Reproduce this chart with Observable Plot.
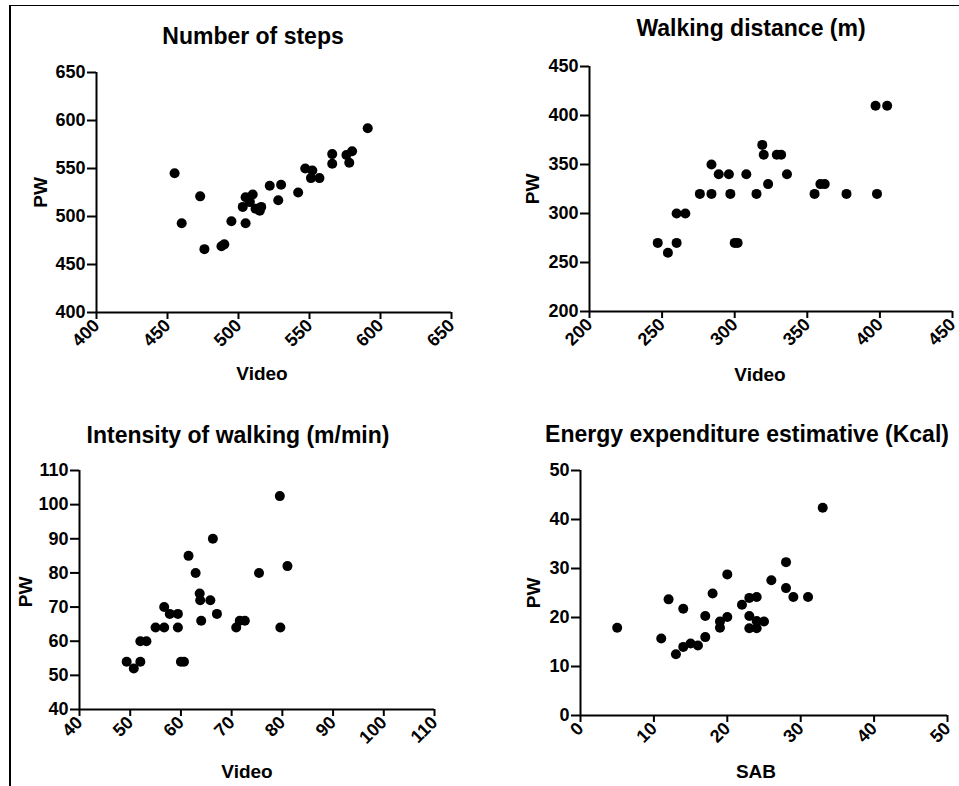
<!DOCTYPE html>
<html>
<head>
<meta charset="utf-8">
<script src="https://cdn.jsdelivr.net/npm/d3@7"></script>
<script src="https://cdn.jsdelivr.net/npm/@observablehq/plot@0.6"></script>
<style>
  html, body { margin: 0; padding: 0; background: #fff; }
  #wrap { position: relative; width: 959px; height: 786px; overflow: hidden; background: #fff; }
  #border { position: absolute; left: 9px; top: 5px; width: 960px; height: 800px;
            border-left: 2px solid #000; border-top: 1px solid #000; box-sizing: border-box; }
  .panel { position: absolute; }
  .panel text { font-weight: bold !important; }
  .panel g[aria-label$="tick label"] text { font-size: 18px !important; }
</style>
</head>
<body>
<div id="wrap"><div id="border"></div></div>
<script>
// ---- Data ----
const titles = ["Number of steps", "Walking distance (m)", "Intensity of walking (m/min)", "Energy expenditure estimative (Kcal)"];
const xLabels = ["Video", "Video", "Video", "SAB"];
const yLabel = "PW";

const stepsVideo = [455,460,473,476,488,490,495,505,503,505,508,510,512,515,516,522,528,530,542,547,552,551,557,566,566,576,580,578,591];
const stepsPW    = [545,493,521,466,469,471,495,493,510,520,515,523,508,506,510,532,517,533,525,550,548,540,540,565,555,564,568,556,592];

const distVideo = [247,254,260,260,266,276,284,284,289,296,297,300,302,308,315,319,320,323,329,332,336,355,359,362,377,397,405,398];
const distPW    = [270,260,270,300,300,320,320,350,340,340,320,270,270,340,320,370,360,330,360,360,340,320,330,330,320,410,410,320];

const intVideo = [49.3,50.7,52,52,53.2,55,56.7,56.7,57.8,59.4,59.4,60,60.6,61.5,62.9,63.7,63.8,64,65.8,66.3,67.1,70.9,71.6,72.6,75.4,79.5,79.6,81];
const intPW    = [54,52,54,60,60,64,64,70,68,68,64,54,54,85,80,74,72,66,72,90,68,64,66,66,80,102.5,64,82];

const energySAB = [5,11,12,13,14,14,15,16,17,17,18,19,19,20,20,22,23,23,23,24,24,24,25,26,28,28,29,31,33];
const energyPW  = [17.9,15.7,23.7,12.5,21.8,14,14.7,14.3,16,20.3,24.9,19.2,17.9,20.1,28.8,22.6,24,20.3,17.8,24.2,19.3,17.8,19.2,27.6,31.3,26,24.2,24.2,42.4];

const stepsTicks = [400,450,500,550,600,650];
const distTicks  = [200,250,300,350,400,450];
const intTicks   = [40,50,60,70,80,90,100,110];
const energyTicks = [0,10,20,30,40,50];

// ---- Layout ----
const FONT = "Arial, 'Liberation Sans', Helvetica, sans-serif";
const panels = [
  {left: 0,   top: 0,   xs: stepsVideo, ys: stepsPW,  xt: stepsTicks, yt: stepsTicks,
   m: [72, 29, 81, 96],  tdx: -21, tdy: -36, xldx: -12, xldy: 61, yldx: -56, yldy: 0},
  {left: 479, top: 0,   xs: distVideo,  ys: distPW,   xt: distTicks,  yt: distTicks,
   m: [66, 7, 82, 110],  tdx: -20, tdy: -38, xldx: -11, xldy: 63, yldx: -57, yldy: 0},
  {left: 0,   top: 393, xs: intVideo,   ys: intPW,    xt: intTicks,   yt: intTicks,
   m: [77, 46, 77, 79],  tdx: -19, tdy: -35, xldx: -10, xldy: 62, yldx: -54, yldy: 2},
  {left: 479, top: 393, xs: energySAB,  ys: energyPW, xt: energyTicks, yt: energyTicks,
   m: [77, 12, 71, 101], tdx: -17, tdy: -36, xldx: -8, xldy: 56, yldx: -47, yldy: 0}
];

const wrap = document.getElementById("wrap");
panels.forEach((p, i) => {
  const data = p.xs.map((x, k) => ({x, y: p.ys[k]}));
  const xd = [p.xt[0], p.xt[p.xt.length - 1]];
  const yd = [p.yt[0], p.yt[p.yt.length - 1]];
  const chart = Plot.plot({
    width: 480, height: 393,
    marginTop: p.m[0], marginRight: p.m[1], marginBottom: p.m[2], marginLeft: p.m[3],
    style: {fontFamily: FONT, fontWeight: "bold", fontSize: "18px", color: "#000", background: "transparent", overflow: "visible"},
    x: {domain: xd},
    y: {domain: yd},
    marks: [
      Plot.axisX(p.xt, {tickRotate: -45, tickSize: 7, tickPadding: 3, strokeWidth: 2, fontSize: 18, fontWeight: "bold", label: null}),
      Plot.axisY(p.yt, {tickSize: 9, tickPadding: 2, strokeWidth: 2, fontSize: 18, fontWeight: "bold", label: null}),
      Plot.ruleX([xd[0]], {strokeWidth: 2}),
      Plot.ruleY([yd[0]], {strokeWidth: 2}),
      Plot.dot(data, {x: "x", y: "y", r: 5, fill: "#000", stroke: "none"}),
      Plot.text([titles[i]], {text: d => d, frameAnchor: "top", dx: p.tdx, dy: p.tdy, fontSize: 23, fontWeight: "bold", textAnchor: "middle", lineAnchor: "middle"}),
      Plot.text([xLabels[i]], {text: d => d, frameAnchor: "bottom", dx: p.xldx, dy: p.xldy, fontSize: 19, fontWeight: "bold", textAnchor: "middle", lineAnchor: "middle"}),
      Plot.text([yLabel], {text: d => d, frameAnchor: "left", rotate: -90, dx: p.yldx, dy: p.yldy, fontSize: 19, fontWeight: "bold", textAnchor: "middle", lineAnchor: "middle"})
    ]
  });
  chart.classList.add("panel");
  chart.style.left = p.left + "px";
  chart.style.top = p.top + "px";
  wrap.appendChild(chart);
});
</script>
</body>
</html>
